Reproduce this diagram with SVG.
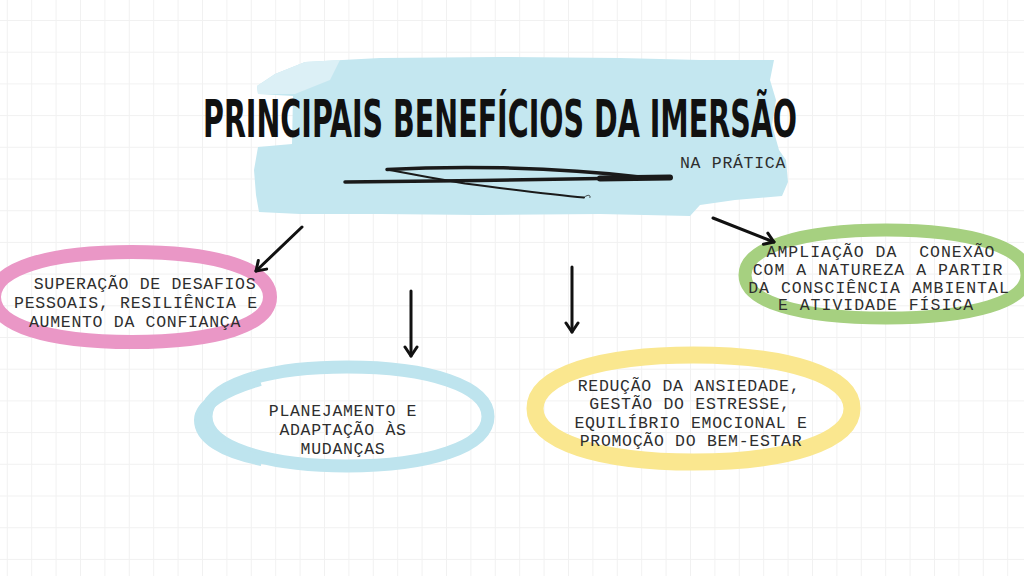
<svg xmlns="http://www.w3.org/2000/svg" width="1024" height="576" viewBox="0 0 1024 576">
  <defs>
    <pattern id="grid" width="24.4" height="31.7" patternUnits="userSpaceOnUse" x="6.8" y="20">
      <path d="M0.5,0 V31.7 M0,0.5 H24.4" stroke="#f1f1f1" stroke-width="1" fill="none"/>
    </pattern>
    <marker id="ah" markerUnits="userSpaceOnUse" markerWidth="16" markerHeight="16" viewBox="0 0 16 16" refX="12" refY="8" orient="auto">
      <path d="M3,2 L12,8 L3,14" fill="none" stroke="#111" stroke-width="3" stroke-linecap="round" stroke-linejoin="round"/>
    </marker>
    <style>
      .t { font-family: "Liberation Mono", "Courier New", "DejaVu Sans Mono", monospace; font-size: 16.5px; letter-spacing: 0.7px; fill: #2e2e2e; text-anchor: middle; }
      .tg { letter-spacing: 1px; }
      .ring { fill: none; stroke-linejoin: round; }
      .arrow { fill: none; stroke: #111; stroke-width: 3; stroke-linecap: round; marker-end: url(#ah); }
      .ink { fill: none; stroke: #1a1a1a; stroke-linecap: round; stroke-linejoin: round; }
    </style>
  </defs>

  <rect width="1024" height="576" fill="#ffffff"/>
  <rect width="1024" height="576" fill="url(#grid)"/>

  <g id="title">
    <path d="M257,86 L275,74 L305,62 L380,58 L500,57 L620,58 L700,60 L774,60 L770,80 L776,100 L772,125 L779,150 L786,160 L788,182 L782,196 L735,200 L700,205 L690,216 L600,214 L480,215 L380,214 L300,214 L259,212 L256,195 L254,170 L258,147 L292,144 L293,96 L258,94 Z" fill="#c4e7f0"/>
    <path d="M257,86 L275,74 L305,62 L340,60 L330,80 L295,94 L258,94 Z" fill="#dcf0f6"/>
    <text transform="translate(203,137) scale(1,1.3)" x="0" y="0" textLength="594" lengthAdjust="spacingAndGlyphs" font-family="'Liberation Sans Narrow', 'DejaVu Sans Condensed', 'Liberation Sans', sans-serif" font-weight="bold" font-size="40" fill="#111">PRINCIPAIS BENEFÍCIOS DA IMERSÃO</text>
    <text class="t" x="733" y="168" fill="#333">NA PRÁTICA</text>
    <path class="ink" d="M345,182 L480,180.5 L600,178.5 L670,178" stroke-width="3.5"/>
    <path class="ink" d="M600,178.5 L670,177.5" stroke-width="6"/>
    <path class="ink" d="M387,169.5 C450,166 550,166 640,177" stroke-width="3.5"/>
    <path class="ink" d="M387,169.5 L430,177.5 L465,183.5 C515,190 555,195 584,197.5" stroke-width="2"/>
    <path class="ink" d="M584,197.5 c3,-3 7,-3 6,0" stroke-width="0.8" stroke="#666"/>
  </g>

  <g id="node-superacao">
    <path class="ring" stroke="#ea97c6" stroke-width="14" d="M-6,297 C-6,269 47,252 132,252 C217,252 270,269 270,297 C270,325 217,342 132,342 C47,342 -6,325 -6,297 Z"/>
    <text class="t" x="145" y="289">SUPERAÇÃO DE DESAFIOS</text>
    <text class="t" x="136" y="308">PESSOAIS, RESILIÊNCIA E</text>
    <text class="t" x="135" y="327">AUMENTO DA CONFIANÇA</text>
  </g>

  <g id="node-planejamento">
    <path class="ring" stroke="#bee4ee" stroke-width="13" d="M206,416.5 C206,386 265,367 347,367 C429,367 488,386 488,416.5 C488,447 429,466 347,466 C265,466 206,447 206,416.5 Z"/>
    <path class="ring" stroke="#bee4ee" stroke-width="12" d="M260,380 C225,390 200,405 200,420 C200,438 222,452 262,460"/>
    <text class="t" x="343" y="416">PLANEJAMENTO E</text>
    <text class="t" x="343" y="435">ADAPTAÇÃO ÀS</text>
    <text class="t" x="343" y="453.5">MUDANÇAS</text>
  </g>

  <g id="node-reducao">
    <path class="ring" stroke="#fae78f" stroke-width="17" d="M535,408.5 C535,375 601,355 693.5,355 C786,355 852,375 852,408.5 C852,442 786,462 693.5,462 C601,462 535,442 535,408.5 Z"/>
    <text class="t" x="689" y="391">REDUÇÃO DA ANSIEDADE,</text>
    <text class="t" x="690" y="409">GESTÃO DO ESTRESSE,</text>
    <text class="t" x="691" y="428">EQUILÍBRIO EMOCIONAL E</text>
    <text class="t" x="691" y="446">PROMOÇÃO DO BEM-ESTAR</text>
  </g>

  <g id="node-ampliacao">
    <path class="ring" stroke="#a6d080" stroke-width="13" d="M745,275 C745,248 799,230 886,230 C973,230 1027,248 1027,275 C1027,302 973,318 886,318 C799,318 745,302 745,275 Z"/>
    <text class="t tg" x="881" y="257" xml:space="preserve">AMPLIAÇÃO DA  CONEXÃO</text>
    <text class="t tg" x="878" y="275">COM A NATUREZA A PARTIR</text>
    <text class="t tg" x="879" y="292.5">DA CONSCIÊNCIA AMBIENTAL</text>
    <text class="t tg" x="876" y="310">E ATIVIDADE FÍSICA</text>
  </g>

  <g id="connectors">
    <path class="arrow" d="M302,227 L256,271"/>
    <path class="arrow" d="M411,291 L411,356"/>
    <path class="arrow" d="M572,267 L572,332"/>
    <path class="arrow" d="M713,218 L774,242"/>
  </g>
</svg>
